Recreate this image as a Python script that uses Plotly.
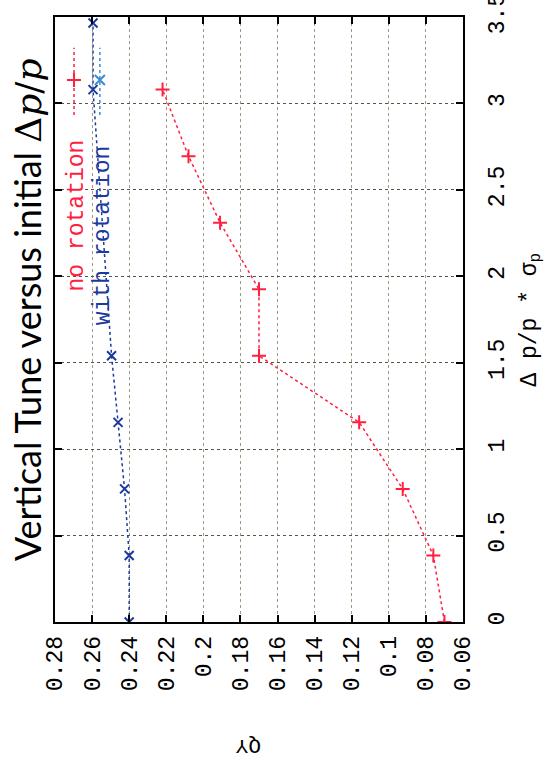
import plotly.graph_objects as go

# Momentum offset (Delta p/p in units of sigma_p) and vertical tune Q_Y
dp_no_rot = [0.0, 0.385, 0.77, 1.155, 1.54, 1.925, 2.31, 2.695, 3.08]
qy_no_rot = [0.070, 0.076, 0.0925, 0.116, 0.170, 0.170, 0.191, 0.208, 0.222]

dp_with_rot = [0.0, 0.385, 0.77, 1.155, 1.54, 3.08, 3.465]
qy_with_rot = [0.240, 0.240, 0.2425, 0.246, 0.2495, 0.2595, 0.2595]

qy_ticks = [0.28, 0.26, 0.24, 0.22, 0.2, 0.18, 0.16, 0.14, 0.12, 0.1, 0.08, 0.06]
qy_ticktext = ["0.28", "0.26", "0.24", "0.22", "0.2", "0.18", "0.16", "0.14",
               "0.12", "0.1", "0.08", "0.06"]
dp_ticks = [0, 0.5, 1, 1.5, 2, 2.5, 3, 3.5]
dp_ticktext = ["0", "0.5", "1", "1.5", "2", "2.5", "3", "3.5"]

RED = "#ff2040"
BLUE = "#1c3a9e"
BLUE_KEY = "#3b8ad6"
MONO = "Liberation Mono, Courier New, monospace"

fig = go.Figure()

# Plot is laid out turned on its side: tune runs left-to-right (reversed),
# momentum offset runs bottom-to-top.
fig.add_trace(go.Scatter(
    x=qy_no_rot, y=dp_no_rot, mode="lines+markers", name="no rotation",
    line=dict(color=RED, width=1.5, dash="dot"),
    marker=dict(symbol="cross-thin", size=10, line=dict(color=RED, width=2)),
))
fig.add_trace(go.Scatter(
    x=qy_with_rot, y=dp_with_rot, mode="lines+markers", name="with rotation",
    line=dict(color=BLUE, width=1.5, dash="dot"),
    marker=dict(symbol="x-thin", size=9, line=dict(color=BLUE, width=2)),
))

# Key samples on a hidden unit overlay
key_x = [0.0466, 0.110]
key_cols = [RED, BLUE_KEY]
key_syms = ["cross-thin", "x-thin"]
for kx, kc, ks in zip(key_x, key_cols, key_syms):
    fig.add_trace(go.Scatter(
        x=[kx, kx], y=[0.838, 0.949], mode="lines", xaxis="x2", yaxis="y2",
        line=dict(color=kc, width=1.5, dash="dot"), showlegend=False,
        hoverinfo="skip"))
    fig.add_trace(go.Scatter(
        x=[kx], y=[0.896], mode="markers", xaxis="x2", yaxis="y2",
        marker=dict(symbol=ks, size=10, line=dict(color=kc, width=2)),
        showlegend=False, hoverinfo="skip"))

axis_common = dict(
    showline=True, linecolor="black", linewidth=1.5, mirror="ticks",
    ticks="inside", ticklen=7, tickwidth=1.5, tickcolor="black",
    showgrid=True, griddash="dot", gridwidth=1.2, zeroline=False,
    tickangle=-90, ticklabeloverflow="allow", automargin=False,
    tickfont=dict(family=MONO, size=23, color="black"),
)


def note(text, x, y, angle, size, color="black", family=MONO):
    return dict(text=text, xref="paper", yref="paper", x=x, y=y,
                xanchor="center", yanchor="middle", showarrow=False,
                textangle=angle, font=dict(family=family, size=size,
                                           color=color))


fig.update_layout(
    width=546, height=763,
    margin=dict(l=55, r=83, t=17, b=141),
    paper_bgcolor="white", plot_bgcolor="white",
    showlegend=False,
    xaxis=dict(range=[0.28, 0.06], tickvals=qy_ticks, ticktext=qy_ticktext,
               gridcolor="#9c9c82", ticklabelstandoff=3, **axis_common),
    yaxis=dict(range=[0, 3.5], tickvals=dp_ticks, ticktext=dp_ticktext,
               side="right", gridcolor="#55554a", ticklabelstandoff=12,
               **axis_common),
    xaxis2=dict(range=[0, 1], overlaying="x", visible=False),
    yaxis2=dict(range=[0, 1], overlaying="y", visible=False),
    shapes=[
        # blank key area behind the legend entries
        dict(type="rect", xref="paper", yref="paper", x0=0.002, x1=0.147,
             y0=0.474, y1=0.997, fillcolor="white", line=dict(width=0),
             layer="between"),
    ],
    annotations=[
        note("Vertical Tune versus initial "
             "<span style=\"font-family:DejaVu Serif\">Δ<i>p</i>/<i>p</i></span>",
             -0.068, 0.516, -90, 36, family="Lato, Open Sans, sans-serif"),
        note("Δ p/p * σ<sub>p</sub>", 1.167, 0.5, -90, 23),
        note("QY", 0.473, -0.203, 180, 21),
        note("no rotation", 0.054, 0.672, -90, 23, color=RED),
        note("with rotation", 0.118, 0.638, -90, 23, color=BLUE),
    ],
)

fig.write_html("out.html")
